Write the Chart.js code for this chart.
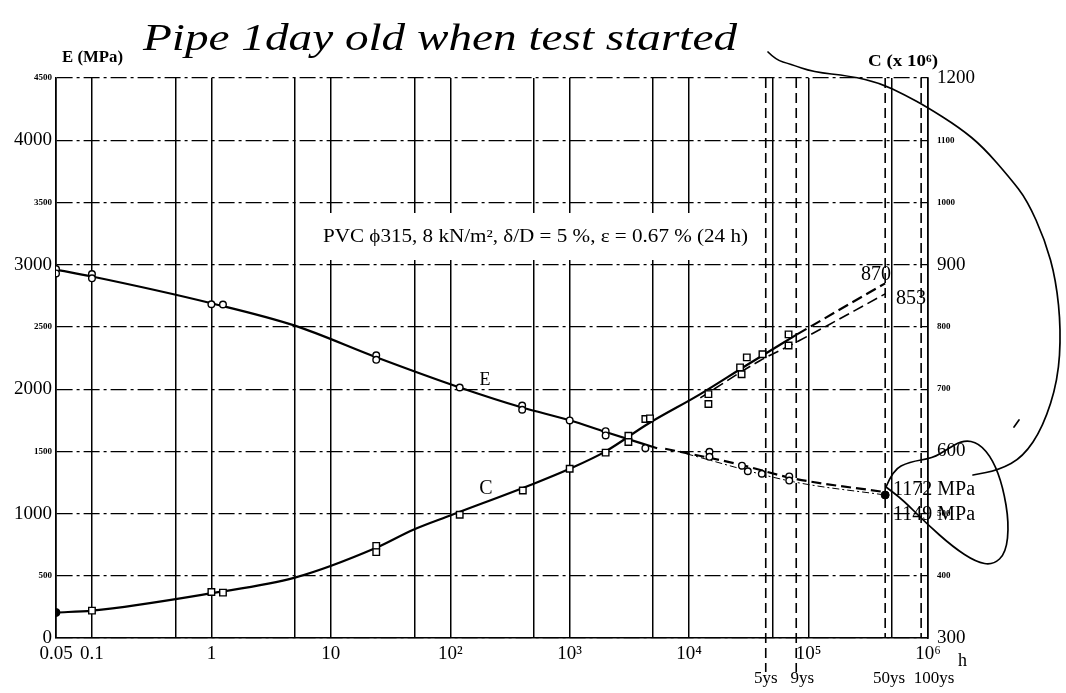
<!DOCTYPE html>
<html>
<head>
<meta charset="utf-8">
<script src="https://cdn.jsdelivr.net/npm/chart.js@4.4.1/dist/chart.umd.min.js"></script>
<style>
html, body { margin: 0; padding: 0; background: #fff; }
</style>
</head>
<body>
<canvas id="grafico" width="1066" height="693"></canvas>
<script>
// E (MPa), left axis
const eLineHours = [0.05, 0.1, 1, 5, 24, 120, 400, 1000, 2000, 5400];
const eLineMPa   = [2960, 2905, 2690, 2510, 2256, 2013, 1852, 1750, 1655, 1525];
const eHeavyHours = [6300, 25000, 75000, 438000];
const eHeavyMPa   = [1521, 1400, 1282, 1172];
const eThinHours = [9500, 75000, 438000];
const eThinMPa   = [1480, 1255, 1149];
const eMarkHours = [0.05, 0.05, 0.1, 0.1, 1, 1.25, 24, 24, 120, 400, 400, 1000, 2000, 2000, 4300,
                    14800, 14800, 27700, 31000, 40600, 68900, 68900];
const eMarkMPa   = [2965, 2930, 2925, 2890, 2682, 2680, 2272, 2235, 2013, 1868, 1834, 1748, 1662, 1628, 1525,
                    1496, 1456, 1385, 1340, 1320, 1298, 1265];
const eEndHours = [438000];
const eEndMPa   = [1149];

// C (x 10^6), right axis
const cLineHours = [0.05, 0.1, 1, 5, 24, 49, 100, 500, 1000, 2000, 4500, 12400, 30000, 80000];
const cLineVal   = [341, 344, 372, 397, 445, 474, 497, 548, 572, 600, 644, 692, 738, 788];
const cUpperHours = [80000, 438000];
const cUpperVal   = [788, 870];
const cLowerHours = [12400, 39400, 74800, 438000];
const cLowerVal   = [686, 746, 773, 853];
const cMarkHours = [0.1, 1, 1.25, 24, 24, 120, 405, 1000, 2000, 3100, 3100, 4300, 4700,
                    14500, 14500, 26700, 27500, 30400, 41100, 68000, 68000];
const cMarkVal   = [344, 374, 373, 448, 438, 498, 537, 572, 598, 625, 615, 652, 653,
                    692, 676, 735, 724, 751, 756, 788, 770];
const cStartHours = [0.05];
const cStartVal   = [341];

// axes
const xTickHours = [0.05, 0.1, 0.5, 1, 5, 10, 50, 100, 500, 1e3, 5e3, 1e4, 5e4, 1e5, 5e5, 1e6];
const xTickText = {0.05: '0.05', 0.1: '0.1', 1: '1', 10: '10', 100: '10²', 1000: '10³',
                   10000: '10⁴', 100000: '10⁵', 1000000: '10⁶'};
const yearHours = [43800, 78840, 438000, 876000];
const yearText  = ['5ys', '9ys', '50ys', '100ys'];

function pts(xs, ys) {
	return xs.map((v, i) => ({x: v, y: ys[i]}));
}

const serif = "'Liberation Serif', 'DejaVu Serif', serif";

function fitText(ctx, txt, x, y, w, align) {
	const m = ctx.measureText(txt).width;
	ctx.save();
	ctx.translate(x, y);
	ctx.scale(w / m, 1);
	ctx.textAlign = 'left';
	ctx.fillText(txt, align === 'center' ? -m / 2 : 0, 0);
	ctx.restore();
}

function ink(ctx, p) {
	ctx.beginPath();
	ctx.moveTo(p[0][0], p[0][1]);
	for (let i = 1; i < p.length - 1; i++) {
		ctx.quadraticCurveTo(p[i][0], p[i][1], (p[i][0] + p[i + 1][0]) / 2, (p[i][1] + p[i + 1][1]) / 2);
	}
	ctx.lineTo(p[p.length - 1][0], p[p.length - 1][1]);
	ctx.stroke();
}

const extras = {
	id: 'extras',
	beforeDatasetsDraw(chart) {
		const {ctx, chartArea: a, scales: {x}} = chart;
		ctx.save();
		// white patch under the test description
		ctx.fillStyle = '#fff';
		ctx.fillRect(300, 213, 460, 47);
		// year marks
		ctx.strokeStyle = '#000';
		ctx.lineWidth = 1.6;
		ctx.setLineDash([10, 5]);
		yearHours.forEach((h, i) => {
			const px = x.getPixelForValue(h);
			ctx.beginPath();
			ctx.moveTo(px, a.top);
			ctx.lineTo(px, i < 2 ? a.bottom + 34 : a.bottom);
			ctx.stroke();
		});
		ctx.restore();
	},
	afterDraw(chart) {
		const {ctx, scales: {x}} = chart;
		ctx.save();
		ctx.fillStyle = '#000';
		ctx.textBaseline = 'middle';

		ctx.font = 'bold 16px ' + serif;
		fitText(ctx, 'E (MPa)', 62, 58, 61);
		fitText(ctx, 'C (x 10⁶)', 868, 62, 70);

		ctx.font = '18px ' + serif;
		fitText(ctx, 'PVC ϕ315, 8 kN/m², δ/D = 5 %, ε = 0.67 % (24 h)', 323, 237, 425);

		ctx.font = '18px ' + serif;
		ctx.textAlign = 'center';
		ctx.fillText('E', 485, 380);
		ctx.font = '20px ' + serif;
		ctx.fillText('C', 486, 489);

		ctx.font = '20px ' + serif;
		ctx.textAlign = 'left';
		ctx.fillText('870', 861, 275);
		ctx.fillText('853', 896, 299);
		ctx.fillText('1172 MPa', 893, 490);
		ctx.fillText('1149 MPa', 893, 515);
		ctx.font = '18px ' + serif;
		ctx.fillText('h', 958, 661);

		ctx.font = '17px ' + serif;
		ctx.textAlign = 'center';
		const shift = [0, 6, 4, 13];
		yearHours.forEach((h, i) => {
			ctx.fillText(yearText[i], x.getPixelForValue(h) + shift[i], 679);
		});

		// handwritten note and strokes
		ctx.font = 'italic 38px ' + serif;
		ctx.textBaseline = 'alphabetic';
		fitText(ctx, 'Pipe 1day old when test started', 143, 50, 594);

		ctx.strokeStyle = '#000';
		ctx.lineWidth = 1.7;
		ctx.lineCap = 'round';
		ink(ctx, [[768, 52], [776, 60], [790, 64], [813, 72], [850, 76], [880, 83], [905, 95], [927, 107],
			[960, 128], [983, 147], [1010, 178], [1027, 200], [1045, 240], [1056, 280], [1061, 330],
			[1058, 380], [1043, 427], [1023, 457], [999, 470], [973, 475]]);
		ink(ctx, [[886, 487], [893, 470], [909, 462], [933, 458], [946, 450], [963, 440], [979, 443],
			[993, 460], [1003, 487], [1009, 523], [1006, 553], [993, 565], [976, 562], [953, 547],
			[926, 523], [903, 500], [886, 487]]);
		ink(ctx, [[1014, 427], [1019, 420]]);
		ctx.restore();
	}
};

new Chart('grafico', {
	type: 'line',
	data: {
		datasets: [
			{data: pts(eEndHours, eEndMPa), yAxisID: 'y', showLine: false, pointStyle: 'circle',
				pointRadius: 4, pointBackgroundColor: '#000', pointBorderColor: '#000'},
			{data: pts(cStartHours, cStartVal), yAxisID: 'y2', showLine: false, pointStyle: 'circle',
				pointRadius: 4, pointBackgroundColor: '#000', pointBorderColor: '#000'},
			{data: pts(eMarkHours, eMarkMPa), yAxisID: 'y', showLine: false, pointStyle: 'circle',
				pointRadius: 3.3, pointBorderWidth: 1.4, pointBackgroundColor: '#fff', pointBorderColor: '#000'},
			{data: pts(cMarkHours, cMarkVal), yAxisID: 'y2', showLine: false, pointStyle: 'rect',
				pointRadius: 4.6, pointBorderWidth: 1.4, pointBackgroundColor: '#fff', pointBorderColor: '#000'},
			{data: pts(eLineHours, eLineMPa), yAxisID: 'y', borderColor: '#000', borderWidth: 2.2,
				pointRadius: 0, cubicInterpolationMode: 'monotone'},
			{data: pts(eHeavyHours, eHeavyMPa), yAxisID: 'y', borderColor: '#000', borderWidth: 2.2,
				borderDash: [10, 5], pointRadius: 0, cubicInterpolationMode: 'monotone'},
			{data: pts(eThinHours, eThinMPa), yAxisID: 'y', borderColor: '#000', borderWidth: 1,
				borderDash: [7, 3, 2, 3], pointRadius: 0, cubicInterpolationMode: 'monotone'},
			{data: pts(cLineHours, cLineVal), yAxisID: 'y2', borderColor: '#000', borderWidth: 2.2,
				pointRadius: 0, cubicInterpolationMode: 'monotone'},
			{data: pts(cUpperHours, cUpperVal), yAxisID: 'y2', borderColor: '#000', borderWidth: 2.2,
				borderDash: [11, 5], pointRadius: 0},
			{data: pts(cLowerHours, cLowerVal), yAxisID: 'y2', borderColor: '#000', borderWidth: 1.6,
				borderDash: [11, 5], pointRadius: 0, cubicInterpolationMode: 'monotone'}
		]
	},
	options: {
		responsive: false,
		animation: false,
		layout: {padding: {top: 78}},
		plugins: {
			legend: {display: false},
			tooltip: {enabled: false}
		},
		scales: {
			x: {
				type: 'logarithmic',
				min: 0.05,
				max: 1e6,
				afterBuildTicks: s => { s.ticks = xTickHours.map(v => ({value: v})); },
				afterFit: s => { s.height = 55; },
				grid: {color: '#000', lineWidth: 1.5, drawTicks: false},
				border: {color: '#000', width: 1.6},
				ticks: {
					autoSkip: false, maxRotation: 0, padding: 5, color: '#000',
					font: {family: serif, size: 19},
					callback: v => xTickText[v] || ''
				}
			},
			y: {
				position: 'left',
				min: 0,
				max: 4500,
				afterFit: s => { s.width = 56; },
				grid: {color: '#000', lineWidth: 1.2, drawTicks: false},
				border: {color: '#000', width: 1.6, dash: [16, 4, 3, 4]},
				ticks: {
					stepSize: 500, padding: 4, color: '#000',
					callback: v => String(v),
					font: c => (c.tick && c.tick.value % 1000 === 0)
						? {family: serif, size: 19}
						: {family: serif, size: 9, weight: 'bold'}
				}
			},
			y2: {
				position: 'right',
				min: 300,
				max: 1200,
				afterFit: s => { s.width = 138; },
				grid: {drawOnChartArea: false, drawTicks: false},
				border: {color: '#000', width: 1.6},
				ticks: {
					stepSize: 100, padding: 9, color: '#000',
					callback: v => String(v),
					font: c => (c.tick && c.tick.value % 300 === 0)
						? {family: serif, size: 19}
						: {family: serif, size: 9, weight: 'bold'}
				}
			}
		}
	},
	plugins: [extras]
});
</script>
</body>
</html>
